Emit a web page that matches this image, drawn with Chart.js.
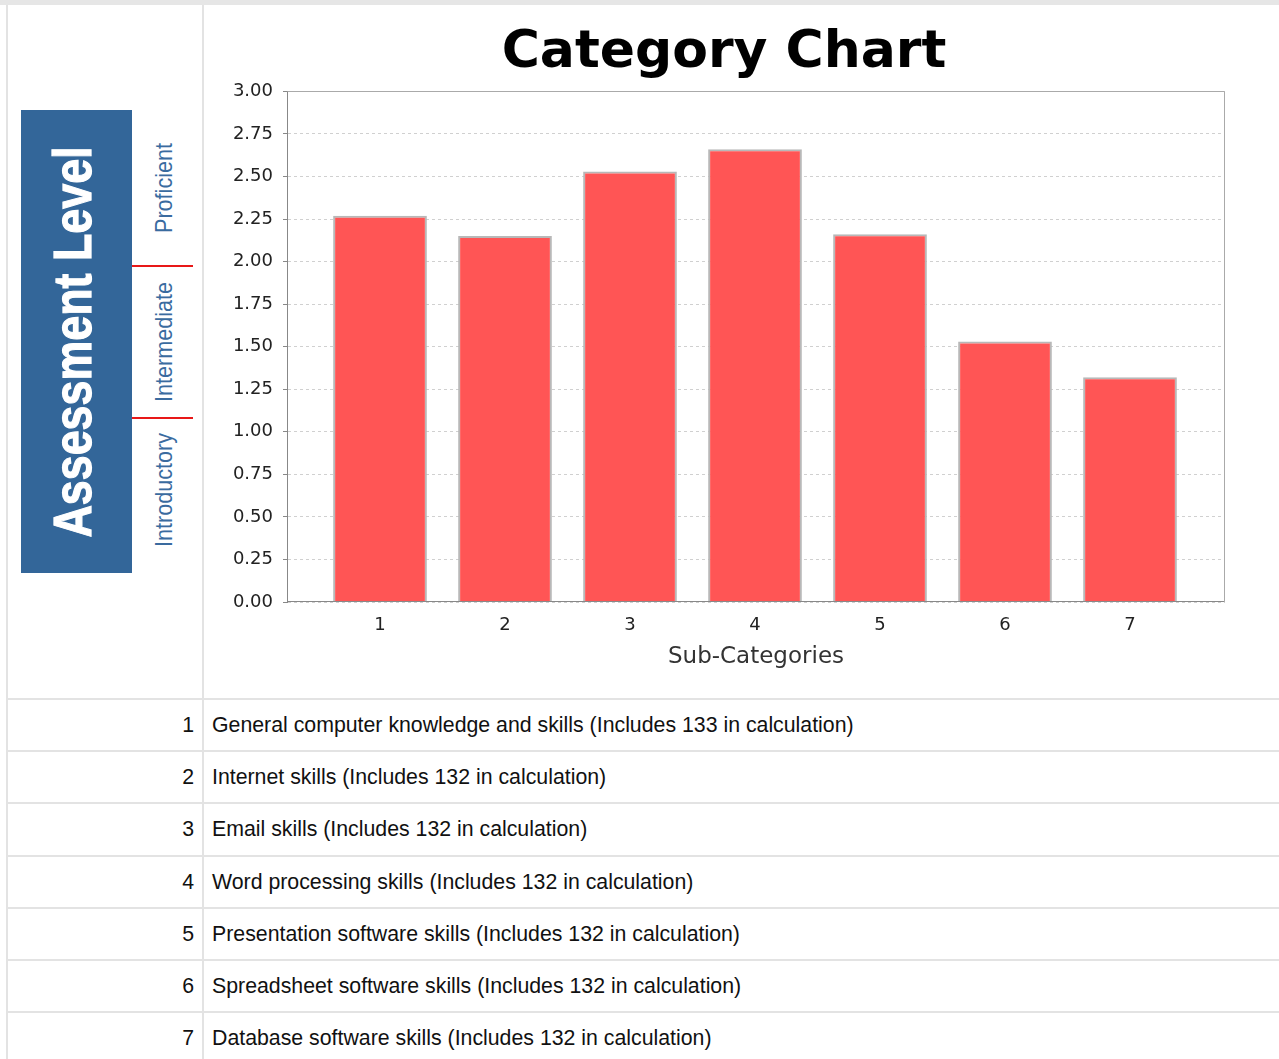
<!DOCTYPE html>
<html>
<head>
<meta charset="utf-8">
<script src="https://cdn.jsdelivr.net/npm/chart.js@4.4.1/dist/chart.umd.min.js"></script>
<style>
html,body{margin:0;padding:0;background:#fff;width:1279px;height:1059px;overflow:hidden;}
#page{position:relative;width:1279px;height:1059px;background:#fff;}
#band{position:absolute;left:0;top:0;width:1279px;height:5px;background:#e6e6e6;}
#grid{position:absolute;left:6px;top:5px;width:1273px;height:1054px;background:#e3e3e3;}
.cell{position:absolute;background:#fff;overflow:hidden;}
#blue{position:absolute;left:21px;top:110px;width:111px;height:463px;background:#336699;}
.rot{position:absolute;white-space:nowrap;line-height:1;}
#assess{left:50%;top:50%;color:#fff;font:bold 54px "Liberation Sans",Arial,sans-serif;-webkit-text-stroke:1.2px #fff;transform:translate(-50%,-50%) translate(-5px,0) rotate(-90deg) scaleX(0.83);}
.lvl{color:#3a6b9f;font:24px "Liberation Sans",Arial,sans-serif;}
.redline{position:absolute;left:132px;width:61px;height:2px;background:#e81818;}
.num{position:absolute;text-align:right;font:21.3px "Liberation Sans",Arial,sans-serif;color:#111;}
.desc{position:absolute;font:21.3px "Liberation Sans",Arial,sans-serif;color:#111;white-space:nowrap;}
#chartBox{position:absolute;left:204px;top:5px;width:1046px;height:692px;}
</style>
</head>
<body>
<div id="page">
  <div id="band"></div>
  <div id="grid"></div>
  <div class="cell" style="left:8px;top:5px;width:194px;height:693px;"></div>
  <div class="cell" style="left:204px;top:5px;width:1075px;height:693px;"></div>
  <div id="blue"><div class="rot" id="assess">Assessment Level</div></div>
  <div id="levels"></div>
  <div class="redline" style="top:265px;"></div>
  <div class="redline" style="top:417px;"></div>
  <div id="rows"></div>
  <div id="chartBox"><canvas id="c" width="1046" height="692"></canvas></div>
</div>
<script>
// ---- data ----
const categories = ['1', '2', '3', '4', '5', '6', '7'];
const scores = [2.27, 2.15, 2.53, 2.66, 2.16, 1.53, 1.32];
const descriptions = [
  'General computer knowledge and skills (Includes 133 in calculation)',
  'Internet skills (Includes 132 in calculation)',
  'Email skills (Includes 132 in calculation)',
  'Word processing skills (Includes 132 in calculation)',
  'Presentation software skills (Includes 132 in calculation)',
  'Spreadsheet software skills (Includes 132 in calculation)',
  'Database software skills (Includes 132 in calculation)'
];
const levelLabels = ['Proficient', 'Intermediate', 'Introductory'];
const yMin = 0, yMax = 3, yStep = 0.25;
const chartTitle = 'Category Chart';
const xTitle = 'Sub-Categories';

// ---- left panel level labels ----
const levelCenters = [188, 342, 490];
const levelsEl = document.getElementById('levels');
levelLabels.forEach((t, i) => {
  const d = document.createElement('div');
  d.className = 'rot lvl';
  d.textContent = t;
  d.style.left = '164px';
  d.style.top = levelCenters[i] + 'px';
  d.style.transform = 'translate(-50%,-50%) rotate(-90deg) scaleX(0.9)';
  levelsEl.appendChild(d);
});

// ---- table rows ----
const rowsEl = document.getElementById('rows');
descriptions.forEach((t, i) => {
  const top = Math.round(700 + i * 52.17);
  const h = Math.round(700 + (i + 1) * 52.17) - top - 2;
  const l = document.createElement('div');
  l.className = 'cell';
  l.style.cssText = `left:8px;top:${top}px;width:194px;height:${h}px;`;
  const n = document.createElement('div');
  n.className = 'num';
  n.textContent = categories[i];
  n.style.cssText += `right:8px;top:${(h - 25) / 2}px;`;
  l.appendChild(n);
  const r = document.createElement('div');
  r.className = 'cell';
  r.style.cssText = `left:204px;top:${top}px;width:1075px;height:${h}px;`;
  const s = document.createElement('div');
  s.className = 'desc';
  s.textContent = t;
  s.style.cssText += `left:8px;top:${(h - 25) / 2}px;`;
  r.appendChild(s);
  rowsEl.appendChild(l);
  rowsEl.appendChild(r);
});

// ---- chart ----
const framePlugin = {
  id: 'frame',
  afterDatasetsDraw(chart) {
    const {ctx, chartArea: a} = chart;
    const L = Math.round(a.left) + 0.5, R = Math.round(a.right) - 0.5;
    const T = Math.round(a.top) + 0.5, B = Math.round(a.bottom) - 0.5;
    ctx.save();
    ctx.lineWidth = 1;
    ctx.strokeStyle = '#aaaaaa';
    ctx.beginPath();
    ctx.moveTo(L, T); ctx.lineTo(R, T); ctx.lineTo(R, B);
    ctx.stroke();
    ctx.strokeStyle = '#888888';
    ctx.beginPath();
    ctx.moveTo(L, B); ctx.lineTo(R, B);
    ctx.stroke();
    ctx.restore();
  }
};

new Chart(document.getElementById('c'), {
  type: 'bar',
  data: {
    datasets: [{
      data: scores.map((v, i) => ({x: i + 1, y: v})),
      backgroundColor: '#ff5555',
      borderColor: '#b8b8b8',
      borderWidth: 2,
      categoryPercentage: 1,
      barPercentage: 0.75
    }]
  },
  options: {
    responsive: false,
    animation: false,
    events: [],
    layout: {padding: {left: 19, right: 25, top: 0, bottom: 15}},
    plugins: {
      legend: {display: false},
      tooltip: {enabled: false},
      title: {
        display: true, text: chartTitle, color: '#000',
        font: {family: 'DejaVu Sans', weight: 'bold', size: 52},
        padding: {top: 17, bottom: 7}
      }
    },
    scales: {
      x: {
        type: 'linear', min: 0.256, max: 7.76, offset: false,
        afterBuildTicks: s => { s.ticks = categories.map((c, i) => ({value: i + 1})); },
        afterFit: s => { s.height = 80; },
        ticks: {
          callback: v => categories[v - 1] ?? '',
          font: {family: 'DejaVu Sans', size: 18}, color: '#222',
          padding: 13, autoSkip: false, maxRotation: 0
        },
        grid: {display: false, drawTicks: false, offset: false},
        border: {display: false},
        title: {
          display: true, text: xTitle, color: '#333',
          font: {family: 'DejaVu Sans', size: 23},
          padding: {top: 0, bottom: 11}
        }
      },
      y: {
        min: yMin, max: yMax,
        afterFit: s => { s.width = 64; },
        ticks: {
          stepSize: yStep, callback: v => Number(v).toFixed(2),
          font: {family: 'DejaVu Sans', size: 18}, color: '#222', padding: 10
        },
        grid: {color: '#d0d0d0', tickColor: '#888', tickLength: 4, lineWidth: 1},
        border: {display: true, color: '#888', width: 1, dash: [3, 3]}
      }
    }
  },
  plugins: [framePlugin]
});
</script>
</body>
</html>
